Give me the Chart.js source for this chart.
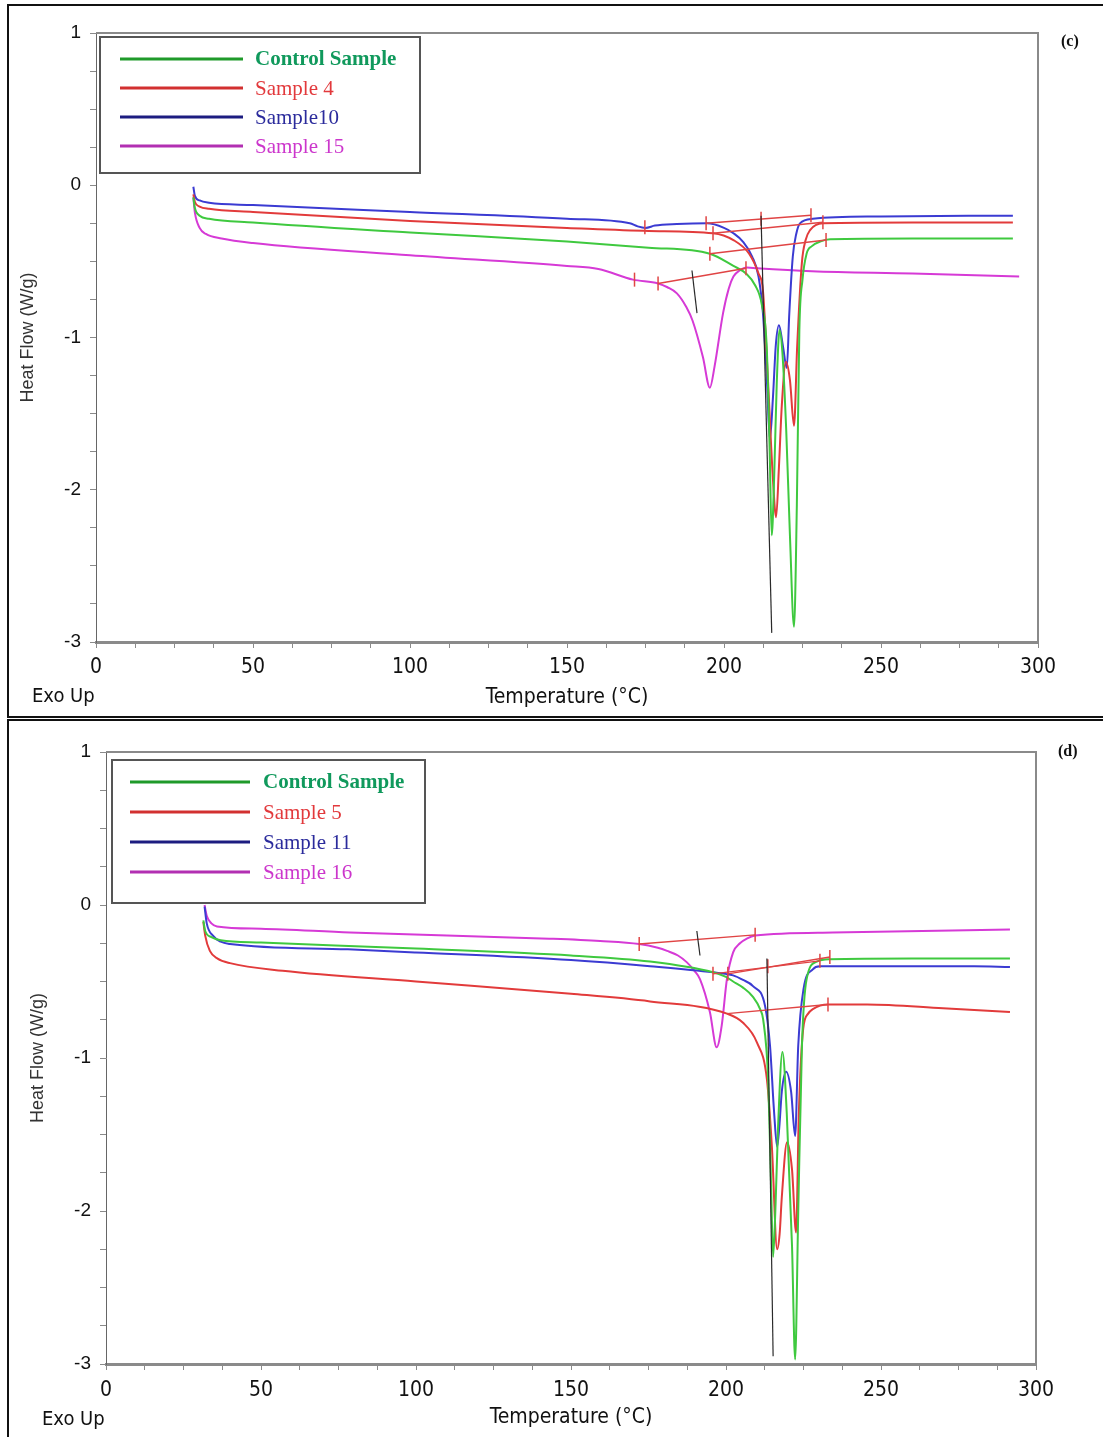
<!DOCTYPE html>
<html>
<head>
<meta charset="utf-8">
<title>DSC curves (c) and (d)</title>
<script src="https://cdn.jsdelivr.net/npm/chart.js@4.4.1/dist/chart.umd.min.js"></script>
<style>
  html, body { margin: 0; padding: 0; background: #fff; overflow: hidden; }
  body { width: 1103px; height: 1437px; position: relative; }
  .panel { position: absolute; left: 0; }
  #panelC { top: 0; }
  #panelD { top: 720px; }
  .frame { position: absolute; border: 2px solid #111; box-sizing: border-box; pointer-events: none; }
  #frameC { left: 7px; top: 4px; width: 1110px; height: 714px; }
  #frameD { left: 7px; top: 719px; width: 1110px; height: 740px; }
</style>
</head>
<body>

<div class="panel" id="panelC"><canvas id="chartC" width="1103" height="717"></canvas></div>
<div class="panel" id="panelD"><canvas id="chartD" width="1103" height="717"></canvas></div>
<div class="frame" id="frameC"></div>
<div class="frame" id="frameD"></div>

<script>
/* ============================================================
   DATA
   each point is [temperature °C, heat flow W/g]
   ============================================================ */

// x axis labels every 50 °C, minor ticks every 12.5 °C
const X_MIN = 0, X_MAX = 300, X_STEP = 12.5, X_LABEL_EVERY = 50;
// y axis labels every 1 W/g, minor ticks every 0.25
const Y_MIN = -3, Y_MAX = 1, Y_STEP = 0.25;

/* ---------- panel (c) ---------- */
const cLabels = ["Control Sample", "Sample 4", "Sample10", "Sample 15"];

const cControl = [
    [31, -0.08], [31.5, -0.15], [33, -0.2], [36, -0.22], [50, -0.245], [100, -0.31],
    [150, -0.37], [176, -0.41], [195.5, -0.45], [203, -0.53], [207, -0.58], [210, -0.66],
    [212, -0.78], [213.6, -1.06], [214.5, -1.7], [215.2, -2.3], [216, -1.9], [216.8, -1.3],
    [217.7, -0.95], [218.6, -1.1], [219.8, -1.6], [221, -2.3], [222.3, -2.9], [223.2, -2.1],
    [224, -0.95], [225, -0.62], [226.3, -0.45], [228, -0.4], [230.6, -0.37], [233.8, -0.355],
    [260, -0.35], [292, -0.35]
];
const cSample4 = [
    [31, -0.06], [31.5, -0.11], [33, -0.14], [36, -0.155], [50, -0.175], [100, -0.235],
    [150, -0.28], [176, -0.3], [196.5, -0.315], [203, -0.36], [208, -0.45], [211, -0.58],
    [212.4, -0.69], [214, -1.28], [215.5, -1.9], [216.6, -2.18], [217.5, -1.85], [218.4, -1.45],
    [219.7, -1.16], [221, -1.28], [222.3, -1.58], [223.3, -1.06], [224.8, -0.51], [226, -0.36],
    [227.4, -0.295], [231.5, -0.25], [260, -0.245], [292, -0.245]
];
const cSample10 = [
    [31, -0.01], [31.5, -0.07], [33, -0.1], [36, -0.115], [50, -0.13], [100, -0.175],
    [150, -0.22], [170, -0.25], [172.5, -0.27], [175, -0.28], [178, -0.265], [185, -0.255],
    [194.6, -0.25], [200, -0.28], [203, -0.315], [206, -0.37], [209, -0.47], [211, -0.6],
    [212.4, -0.84], [213.7, -1.3], [214.6, -1.67], [215.6, -1.39], [216.5, -1.05], [217.5, -0.92],
    [218.8, -1.06], [220, -1.2], [220.8, -0.84], [221.9, -0.47], [223, -0.32], [224.2, -0.25],
    [228.3, -0.22], [250, -0.205], [292, -0.2]
];
const cSample15 = [
    [31, -0.08], [31.5, -0.18], [33, -0.28], [35, -0.32], [40, -0.35], [50, -0.38],
    [100, -0.46], [150, -0.53], [160, -0.55], [171, -0.62], [179, -0.645], [182, -0.67],
    [185, -0.71], [188, -0.8], [190, -0.89], [193.3, -1.13], [195.5, -1.33], [197, -1.19],
    [199.7, -0.84], [201.5, -0.68], [203, -0.6], [205, -0.56], [207.3, -0.54], [210.5, -0.545],
    [228, -0.565], [260, -0.58], [294, -0.6]
];
// analysis baselines (red construction lines)
const cBaselines = [
    [[194.3, -0.25], [227.7, -0.197]],
    [[196.5, -0.315], [231.5, -0.243]],
    [[195.5, -0.45], [232.5, -0.36]],
    [[179, -0.645], [207, -0.545]]
];
// dark marker lines drawn by the instrument software
const cMarkers = [
    [[211.8, -0.2], [215.2, -2.94]],
    [[189.8, -0.56], [191.4, -0.84]]
];
// onset / endset tick marks
const cTicks = [
    [174.8, -0.276], [194.3, -0.25], [196.5, -0.315], [195.5, -0.45], [171.5, -0.62],
    [179, -0.645], [207, -0.545], [211.8, -0.22], [227.7, -0.197], [231.5, -0.243], [232.5, -0.36]
];

/* ---------- panel (d) ---------- */
const dLabels = ["Control Sample", "Sample 5", "Sample 11", "Sample 16"];

const dControl = [
    [31.4, -0.1], [32, -0.17], [34, -0.21], [37, -0.23], [50, -0.245], [100, -0.285],
    [150, -0.33], [175.5, -0.37], [195.8, -0.44], [200, -0.47], [202.3, -0.5], [205.5, -0.54],
    [208.7, -0.6], [211, -0.68], [212, -0.75], [213.6, -1.14], [214.5, -1.8], [215.2, -2.3],
    [216, -1.95], [216.8, -1.45], [218.2, -0.96], [219.6, -1.36], [221.3, -2.23], [222.3, -2.97],
    [223.3, -2.01], [224.5, -0.92], [226, -0.485], [229.3, -0.37], [233.5, -0.355], [260, -0.35],
    [291.6, -0.35]
];
const dSample5 = [
    [31.4, -0.11], [32, -0.2], [33.5, -0.3], [36, -0.35], [40, -0.38], [57, -0.43],
    [100, -0.5], [150, -0.58], [175.5, -0.63], [200.3, -0.71], [205.5, -0.77], [210, -0.9],
    [213.2, -1.14], [214.8, -1.58], [216.5, -2.25], [217.3, -2.15], [218, -1.91], [219.7, -1.55],
    [221.3, -1.73], [222.6, -2.14], [223.5, -1.36], [224.9, -0.81], [226.5, -0.71], [228, -0.68],
    [232.9, -0.65], [245.5, -0.65], [270, -0.675], [291.6, -0.7]
];
const dSample11 = [
    [31.8, -0.01], [32.5, -0.12], [34.5, -0.2], [37, -0.24], [40, -0.255], [78, -0.29],
    [100, -0.31], [150, -0.36], [175.5, -0.4], [195.8, -0.44], [202.3, -0.46], [205.5, -0.49],
    [208.7, -0.53], [212.6, -0.66], [214.2, -0.92], [215.5, -1.35], [216.5, -1.58], [217.2, -1.45],
    [218, -1.22], [219.4, -1.09], [221, -1.22], [222.3, -1.51], [223.3, -0.92], [225, -0.55],
    [228, -0.42], [230.3, -0.4], [280, -0.4], [291.6, -0.405]
];
const dSample16 = [
    [31.8, 0], [32.5, -0.07], [34, -0.12], [35.8, -0.14], [50, -0.155], [78.7, -0.18],
    [143, -0.22], [159.4, -0.235], [172, -0.255], [178, -0.28], [181, -0.3], [184.5, -0.33],
    [187.4, -0.375], [189.8, -0.43], [191.6, -0.485], [194.8, -0.7], [197, -0.93], [198.6, -0.79],
    [200.3, -0.485], [202.3, -0.31], [204.5, -0.25], [206.7, -0.22], [209.4, -0.2], [234.5, -0.18],
    [291.6, -0.16]
];
const dBaselines = [
    [[172, -0.255], [209.4, -0.195]],
    [[195.8, -0.45], [230.3, -0.365]],
    [[200.6, -0.45], [233.5, -0.34]],
    [[200.3, -0.71], [232.9, -0.65]]
];
const dMarkers = [
    [[213.2, -0.35], [215.2, -2.95]],
    [[190.6, -0.17], [191.6, -0.33]]
];
const dTicks = [
    [172, -0.255], [209.4, -0.195], [195.8, -0.45], [200.6, -0.45], [230.3, -0.365],
    [233.5, -0.34], [232.9, -0.65], [213.5, -0.4]
];


/* ============================================================
   STYLE
   ============================================================ */

const CURVE_COLORS = ["#3fc93f", "#e23b3b", "#3b3bd2", "#d63ad6"];
const LEGEND_LINE_COLORS = ["#1f9a2a", "#d23030", "#1c1c80", "#b22fb2"];
const LEGEND_TEXT_COLORS = ["#10995c", "#e2393c", "#2b2b9c", "#cc36cc"];
const BASELINE_COLOR = "#e04444";
const MARKER_COLOR = "#2a2a2a";
const AXIS_COLOR = "#8a8a8a";

const NARROW = '"Liberation Sans Narrow", "DejaVu Sans Condensed", "Arial Narrow", "Liberation Sans", sans-serif';
const SANS = '"Liberation Sans", Arial, sans-serif';
const SERIF = '"Liberation Serif", "Times New Roman", serif';

const toXY = arr => arr.map(([x, y]) => ({ x, y }));


/* ============================================================
   PLUGINS
   ============================================================ */

// plot frame: top and right edges of the plotting box
const plotFrame = {
    id: "plotFrame",
    beforeDatasetsDraw(chart) {
        const { ctx, chartArea: a } = chart;
        ctx.save();
        ctx.strokeStyle = AXIS_COLOR;
        ctx.lineWidth = 2;
        ctx.beginPath();
        ctx.moveTo(a.left, a.top);
        ctx.lineTo(a.right, a.top);
        ctx.lineTo(a.right, a.bottom);
        ctx.stroke();
        ctx.restore();
    }
};

// boxed legend inside the plot, coloured serif text
const boxLegend = {
    id: "boxLegend",
    afterDatasetsDraw(chart, args, opts) {
        const { ctx, chartArea } = chart;
        const x0 = chartArea.left + opts.dx;
        const y0 = chartArea.top + opts.dy;
        ctx.save();
        ctx.fillStyle = "#fff";
        ctx.fillRect(x0, y0, opts.width, opts.height);
        ctx.strokeStyle = "#555";
        ctx.lineWidth = 2;
        ctx.strokeRect(x0, y0, opts.width, opts.height);

        const items = chart.data.datasets.filter(d => d.legendText);
        items.forEach((d, i) => {
            const y = y0 + opts.firstRow + i * opts.rowGap;
            ctx.strokeStyle = d.legendLine;
            ctx.lineWidth = 3;
            ctx.beginPath();
            ctx.moveTo(x0 + opts.lineStart, y);
            ctx.lineTo(x0 + opts.lineEnd, y);
            ctx.stroke();

            ctx.fillStyle = d.legendText;
            ctx.font = (i === 0 ? "bold " : "") + opts.fontSize + "px " + SERIF;
            ctx.textBaseline = "middle";
            ctx.textAlign = "left";
            ctx.fillText(d.label, x0 + opts.textStart, y + 1);
        });
        ctx.restore();
    }
};

// "Exo Up" and the panel letter
const panelText = {
    id: "panelText",
    afterDraw(chart, args, opts) {
        const { ctx } = chart;
        ctx.save();
        ctx.fillStyle = "#111";
        ctx.textBaseline = "middle";
        ctx.font = "20px " + NARROW;
        ctx.fillText("Exo Up", opts.exoX, opts.exoY);
        ctx.font = "bold 16px " + SERIF;
        ctx.fillText(opts.letter, opts.letterX, opts.letterY);
        ctx.restore();
    }
};


/* ============================================================
   CHART BUILDER
   ============================================================ */

function buildDatasets(labels, curves, baselines, markers, ticks) {
    const sets = [];

    markers.forEach(m => sets.push({
        data: toXY(m),
        borderColor: MARKER_COLOR,
        borderWidth: 1.2,
        pointRadius: 0,
        tension: 0
    }));

    sets.push({
        type: "scatter",
        data: toXY(ticks),
        pointStyle: "line",
        rotation: 90,
        pointRadius: 7,
        borderColor: BASELINE_COLOR,
        borderWidth: 1.5,
        showLine: false
    });

    baselines.forEach(b => sets.push({
        data: toXY(b),
        borderColor: BASELINE_COLOR,
        borderWidth: 1.4,
        pointRadius: 0,
        tension: 0
    }));

    curves.forEach((c, i) => sets.push({
        label: labels[i],
        data: toXY(c),
        borderColor: CURVE_COLORS[i],
        borderWidth: 2,
        pointRadius: 0,
        cubicInterpolationMode: "monotone",
        legendLine: LEGEND_LINE_COLORS[i],
        legendText: LEGEND_TEXT_COLORS[i]
    }));

    return sets;
}

function makeChart(canvasId, datasets, layoutCfg, legendCfg, textCfg) {
    const ctx = document.getElementById(canvasId).getContext("2d");
    return new Chart(ctx, {
        type: "line",
        data: { datasets },
        options: {
            responsive: false,
            animation: false,
            layout: {
                padding: { top: layoutCfg.top, right: layoutCfg.right, left: 0, bottom: 0 }
            },
            scales: {
                x: {
                    type: "linear",
                    min: X_MIN,
                    max: X_MAX,
                    afterFit: s => { s.height = layoutCfg.xHeight; },
                    ticks: {
                        stepSize: X_STEP,
                        autoSkip: false,
                        maxRotation: 0,
                        padding: layoutCfg.xLabelPad,
                        color: "#111",
                        font: { family: NARROW, size: 21 },
                        callback: v => (v % X_LABEL_EVERY === 0 ? v : "")
                    },
                    grid: {
                        drawOnChartArea: false,
                        drawTicks: true,
                        tickLength: 6,
                        color: AXIS_COLOR
                    },
                    border: { color: AXIS_COLOR, width: 3 },
                    title: {
                        display: true,
                        text: "Temperature (°C)",
                        color: "#111",
                        font: { family: NARROW, size: 21 },
                        padding: { top: 0, bottom: 7 }
                    }
                },
                y: {
                    type: "linear",
                    min: Y_MIN,
                    max: Y_MAX,
                    afterFit: s => { s.width = layoutCfg.yWidth; },
                    ticks: {
                        stepSize: Y_STEP,
                        padding: 9,
                        color: "#111",
                        font: { family: SANS, size: 19 },
                        callback: v => (Number.isInteger(v) ? v : "")
                    },
                    grid: {
                        drawOnChartArea: false,
                        drawTicks: true,
                        tickLength: 6,
                        color: AXIS_COLOR
                    },
                    border: { color: "#666", width: 1 },
                    title: {
                        display: true,
                        text: "Heat Flow (W/g)",
                        color: "#333",
                        font: { family: SANS, size: 18 },
                        padding: { top: layoutCfg.yTitlePad, bottom: 0 }
                    }
                }
            },
            plugins: {
                legend: { display: false },
                tooltip: { enabled: false },
                boxLegend: legendCfg,
                panelText: textCfg
            }
        },
        plugins: [plotFrame, boxLegend, panelText]
    });
}


/* ============================================================
   RENDER
   ============================================================ */

makeChart(
    "chartC",
    buildDatasets(cLabels, [cControl, cSample4, cSample10, cSample15], cBaselines, cMarkers, cTicks),
    { top: 33, right: 65, xHeight: 75, yWidth: 96, yTitlePad: 17, xLabelPad: 7 },
    { dx: 4, dy: 4, width: 320, height: 136, firstRow: 22, rowGap: 29,
      lineStart: 20, lineEnd: 143, textStart: 155, fontSize: 21 },
    { exoX: 32, exoY: 697, letter: "(c)", letterX: 1061, letterY: 42 }
);

makeChart(
    "chartD",
    buildDatasets(dLabels, [dControl, dSample5, dSample11, dSample16], dBaselines, dMarkers, dTicks),
    { top: 32, right: 67, xHeight: 73, yWidth: 106, yTitlePad: 27, xLabelPad: 8 },
    { dx: 6, dy: 8, width: 313, height: 143, firstRow: 22, rowGap: 30,
      lineStart: 18, lineEnd: 138, textStart: 151, fontSize: 21 },
    { exoX: 42, exoY: 700, letter: "(d)", letterX: 1058, letterY: 32 }
);
</script>
</body>
</html>
